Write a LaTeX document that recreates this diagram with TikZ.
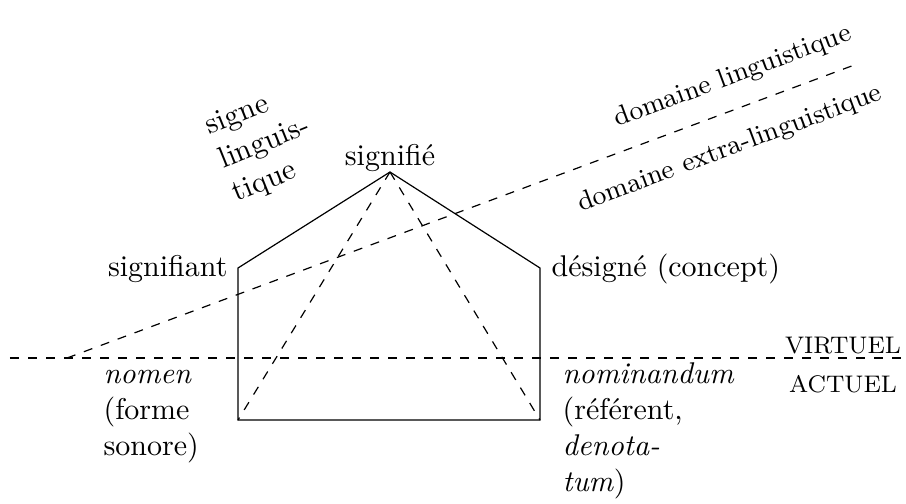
\documentclass[tikz,border=0pt]{standalone}
\begin{document}
\begin{tikzpicture}[x=0.33333pt,y=-0.33333pt,
  lbl/.style={inner sep=0pt},
  rot/.style={inner sep=0pt, rotate=20.4},
  dashline/.style={dashed}]
\useasboundingbox (0,0) rectangle (906,503);
% pentagon corners
\coordinate (T) at (390,172);
\coordinate (SL) at (238,268);
\coordinate (BL) at (238,420);
\coordinate (BR) at (540,420);
\coordinate (SR) at (540,268);
% dashed division lines
\coordinate (HL) at (10,358);
\coordinate (HR) at (906,358);
\coordinate (DA) at (67,358);
\coordinate (DB) at (857,64);
\draw (SL) -- (T) -- (SR) -- (BR) -- (BL) -- cycle;
\draw[dashline] (T) -- (BL);
\draw[dashline] (T) -- (BR);
\draw[dashline] (HL) -- (HR);
\draw[dashline] (DA) -- (DB);
% labels
\node[lbl, anchor=base] (signifie) at (390,165) {signifié};
\node[lbl, anchor=base east] (signifiant) at (228,276) {signifiant};
\node[lbl, anchor=base west] (designe) at (551,276) {désigné (concept)};
\node[lbl, anchor=north west, align=left] (nomen) at (103,358)
  {\strut\textit{nomen}\\(forme\\sonore)};
\node[lbl, anchor=north west, align=left] (nominandum) at (562,358)
  {\strut\textit{nominandum}\\(référent,\\\textit{denota-}\\\textit{tum})};
\node[lbl, anchor=base, font=\footnotesize] (virtuel) at (843,353) {VIRTUEL};
\node[lbl, anchor=base, font=\footnotesize] (actuel) at (843,392) {ACTUEL};
\node[lbl, rotate=22, align=left] (signe) at (265,144) {signe\\linguis-\\tique};
\node[rot, font=\small] (domling) at (733,77) {domaine linguistique};
\node[rot, font=\small] (domextra) at (730,149) {domaine extra-linguistique};
\end{tikzpicture}
\end{document}
